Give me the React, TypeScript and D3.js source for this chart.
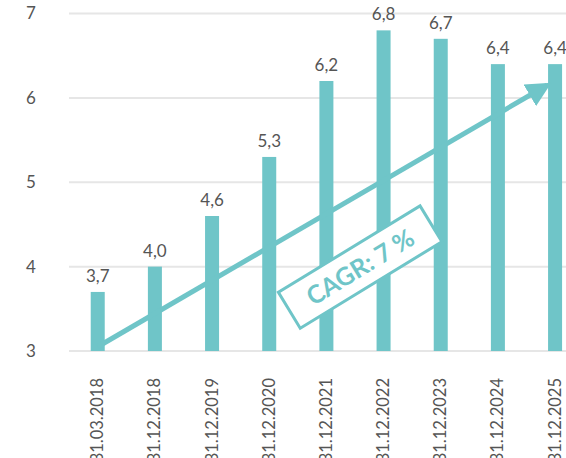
import React from "react";
import * as d3 from "d3";

const categories = [
  "31.03.2018",
  "31.12.2018",
  "31.12.2019",
  "31.12.2020",
  "31.12.2021",
  "31.12.2022",
  "31.12.2023",
  "31.12.2024",
  "31.12.2025",
];
const values = [3.7, 4.0, 4.6, 5.3, 6.2, 6.8, 6.7, 6.4, 6.4];
const yTicks = [3, 4, 5, 6, 7];
const cagrLabel = "CAGR: 7 %";
const cagrFrom = 3.05; // arrow start value (first bar)
const cagrTo = 6.15; // arrow end value (last bar)

const W = 566;
const H = 458;
const TEAL = "#6fc5c8";
const TEXT = "#555555";
const FONT = "Lato, 'Open Sans', sans-serif";

export default function App() {
  const x = d3
    .scaleBand<string>()
    .domain(categories)
    .range([69, 69 + 57.2 * categories.length])
    .paddingInner(0.755)
    .paddingOuter(0.38);
  const y = d3.scaleLinear().domain([3, 7]).range([351, 13.5]);
  const bw = x.bandwidth();
  const cx = (c: string) => (x(c) as number) + bw / 2;

  const x0 = cx(categories[0]);
  const y0 = y(cagrFrom);
  const x1 = cx(categories[categories.length - 1]) - 8;
  const y1 = y(cagrTo);
  const angle = (Math.atan2(y1 - y0, x1 - x0) * 180) / Math.PI;
  const t = 0.584;
  const bx = x0 + (x1 - x0) * t;
  const by = y0 + (y1 - y0) * t + 73;

  return (
    <svg
      width={W}
      height={H}
      style={{ position: "absolute", left: 0, top: 0, fontFamily: FONT }}
    >
      <defs>
        <marker
          id="arrowHead"
          viewBox="0 0 10 10"
          refX="8"
          refY="5"
          markerWidth="5"
          markerHeight="5"
          orient="auto"
          markerUnits="strokeWidth"
        >
          <path d="M0,0 L10,5 L0,10 Z" fill={TEAL} />
        </marker>
      </defs>
      {yTicks.map((tk) => (
        <g key={tk}>
          <line x1={69} x2={W} y1={y(tk)} y2={y(tk)} stroke="#e6e6e6" strokeWidth={2} />
          <text
            x={31}
            y={y(tk)}
            dy="0.35em"
            textAnchor="middle"
            fontSize={17}
            fill={TEXT}
          >
            {tk}
          </text>
        </g>
      ))}
      {categories.map((c, i) => (
        <g key={c}>
          <rect
            x={x(c)}
            y={y(values[i])}
            width={bw}
            height={y(3) - y(values[i])}
            fill={TEAL}
          />
          <text
            x={cx(c)}
            y={y(values[i]) - 10}
            textAnchor="middle"
            fontSize={17}
            fill={TEXT}
          >
            {values[i].toFixed(1).replace(".", ",")}
          </text>
          <text
            transform={`translate(${cx(c) + 5.5},378) rotate(-90)`}
            textAnchor="end"
            fontSize={16.5}
            fill={TEXT}
          >
            {c}
          </text>
        </g>
      ))}
      <line
        x1={x0}
        y1={y0}
        x2={x1}
        y2={y1}
        stroke={TEAL}
        strokeWidth={5}
        markerEnd="url(#arrowHead)"
      />
      <g transform={`translate(${bx},${by}) rotate(${angle - 1.2})`}>
        <rect
          x={-83}
          y={-21}
          width={166}
          height={42}
          fill="#ffffff"
          stroke={TEAL}
          strokeWidth={3}
        />
        <text
          x={0}
          y={0}
          dy="0.36em"
          textAnchor="middle"
          fontSize={25}
          fontWeight={700}
          fill={TEAL}
        >
          {cagrLabel}
        </text>
      </g>
    </svg>
  );
}
